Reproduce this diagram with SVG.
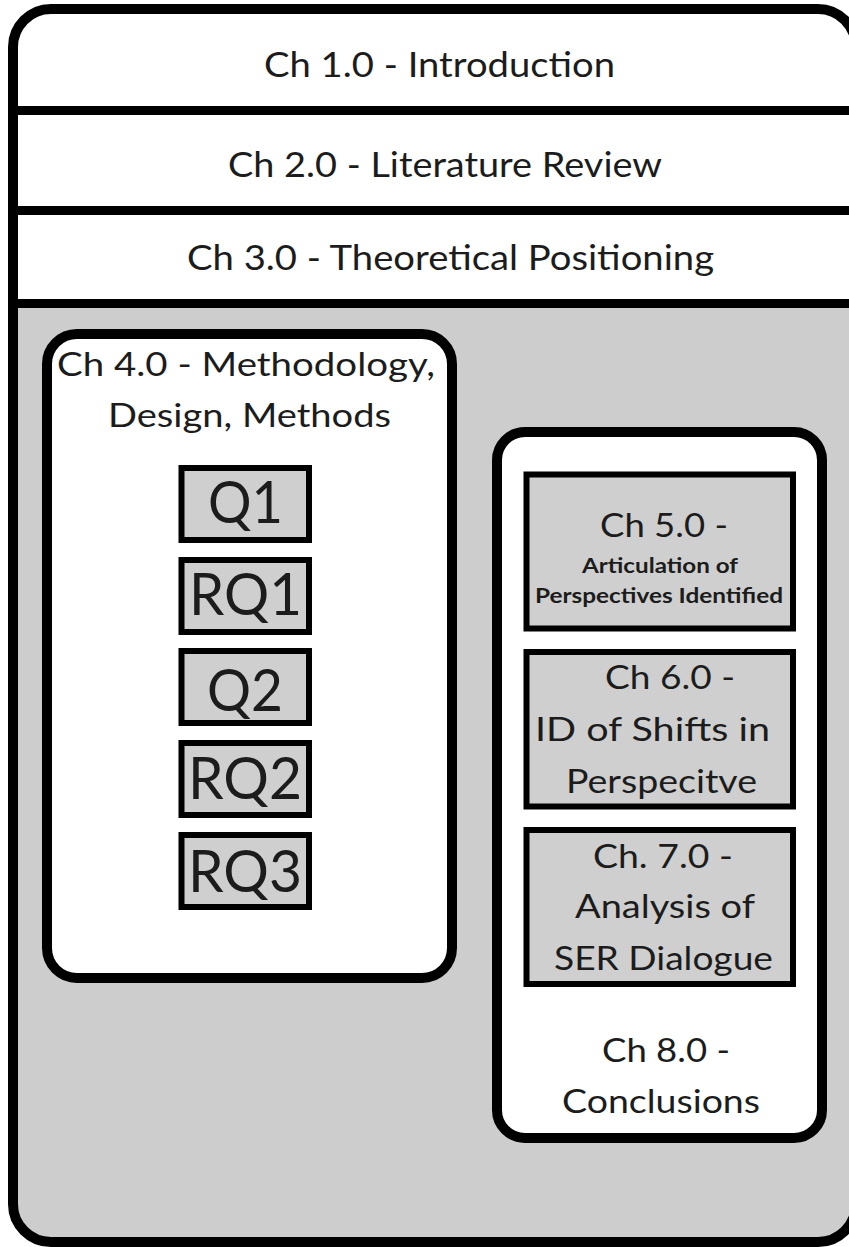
<svg xmlns="http://www.w3.org/2000/svg" width="849" height="1247" viewBox="0 0 849 1247">
  <style>
    .lbl { font-family: Lato, "Open Sans", "Liberation Sans", sans-serif; fill: #1c1c1c; }
    .hdr { font-size: 34px; }
    .ch { font-size: 32px; }
    .sub { font-size: 21px; font-weight: bold; }
    .q { font-size: 59px; }
    .frame { fill: none; stroke: #000; stroke-width: 10; }
    .panel { fill: #fff; stroke: #000; stroke-width: 10; }
    .qbox { fill: #cfcfd0; stroke: #000; stroke-width: 6; }
    .chbox { fill: #cfcfcf; stroke: #000; stroke-width: 6; }
  </style>
  <defs>
    <clipPath id="outerClip">
      <rect x="13" y="9" width="843" height="1233" rx="38" ry="38"/>
    </clipPath>
  </defs>

  <rect x="0" y="0" width="849" height="1247" fill="#fff"/>

  <!-- outer thesis frame: white header bands over a grey body -->
  <g id="frame">
    <g clip-path="url(#outerClip)">
      <rect x="0" y="0" width="870" height="304" fill="#fff"/>
      <rect x="0" y="304" width="870" height="950" fill="#cdcdcd"/>
      <line x1="0" y1="110.5" x2="870" y2="110.5" stroke="#000" stroke-width="9"/>
      <line x1="0" y1="210.5" x2="870" y2="210.5" stroke="#000" stroke-width="9"/>
      <line x1="0" y1="303.5" x2="870" y2="303.5" stroke="#000" stroke-width="9"/>
    </g>
    <rect class="frame" x="13" y="9" width="843" height="1233" rx="38" ry="38"/>
  </g>

  <g id="ch1">
    <text class="lbl hdr" x="264" y="77" textLength="351" lengthAdjust="spacingAndGlyphs">Ch 1.0 - Introduction</text>
  </g>
  <g id="ch2">
    <text class="lbl hdr" x="228" y="177" textLength="434" lengthAdjust="spacingAndGlyphs">Ch 2.0 - Literature Review</text>
  </g>
  <g id="ch3">
    <text class="lbl hdr" x="187" y="270" textLength="527" lengthAdjust="spacingAndGlyphs">Ch 3.0 - Theoretical Positioning</text>
  </g>

  <!-- methodology panel with research questions -->
  <g id="ch4">
    <rect class="panel" x="47" y="334" width="405" height="644" rx="30" ry="30"/>
    <text class="lbl ch" x="57" y="376" textLength="378" lengthAdjust="spacingAndGlyphs">Ch 4.0 - Methodology,</text>
    <text class="lbl ch" x="108" y="427" textLength="283" lengthAdjust="spacingAndGlyphs">Design, Methods</text>
  </g>
  <g id="q1">
    <rect class="qbox" x="181.5" y="468" width="127.5" height="72"/>
    <text class="lbl q" x="208" y="523" textLength="75" lengthAdjust="spacingAndGlyphs">Q1</text>
  </g>
  <g id="rq1">
    <rect class="qbox" x="181.5" y="560" width="127.5" height="72"/>
    <text class="lbl q" x="189" y="615" textLength="113" lengthAdjust="spacingAndGlyphs">RQ1</text>
  </g>
  <g id="q2">
    <rect class="qbox" x="181.5" y="651" width="127.5" height="72"/>
    <text class="lbl q" x="207" y="711" textLength="76" lengthAdjust="spacingAndGlyphs">Q2</text>
  </g>
  <g id="rq2">
    <rect class="qbox" x="181.5" y="743" width="127.5" height="72"/>
    <text class="lbl q" x="188" y="799" textLength="114" lengthAdjust="spacingAndGlyphs">RQ2</text>
  </g>
  <g id="rq3">
    <rect class="qbox" x="181.5" y="835" width="127.5" height="72"/>
    <text class="lbl q" x="188" y="892" textLength="114" lengthAdjust="spacingAndGlyphs">RQ3</text>
  </g>

  <!-- findings panel -->
  <g id="findings">
    <rect class="panel" x="497" y="432" width="325" height="706" rx="28" ry="28"/>
  </g>
  <g id="ch5">
    <rect class="chbox" x="526.5" y="474.5" width="266.5" height="154"/>
    <text class="lbl ch" x="600" y="537" textLength="128" lengthAdjust="spacingAndGlyphs">Ch 5.0 -</text>
    <text class="lbl sub" x="582" y="573" textLength="156" lengthAdjust="spacingAndGlyphs">Articulation of</text>
    <text class="lbl sub" x="535" y="603" textLength="248" lengthAdjust="spacingAndGlyphs">Perspectives Identified</text>
  </g>
  <g id="ch6">
    <rect class="chbox" x="526.5" y="652" width="266.5" height="154.5"/>
    <text class="lbl ch" x="605" y="689" textLength="130" lengthAdjust="spacingAndGlyphs">Ch 6.0 -</text>
    <text class="lbl ch" x="535" y="741" textLength="235" lengthAdjust="spacingAndGlyphs">ID of Shifts in</text>
    <text class="lbl ch" x="566" y="793" textLength="191" lengthAdjust="spacingAndGlyphs">Perspecitve</text>
  </g>
  <g id="ch7">
    <rect class="chbox" x="526.5" y="830" width="266.5" height="154"/>
    <text class="lbl ch" x="593" y="868" textLength="140" lengthAdjust="spacingAndGlyphs">Ch. 7.0 -</text>
    <text class="lbl ch" x="575" y="918" textLength="180" lengthAdjust="spacingAndGlyphs">Analysis of</text>
    <text class="lbl ch" x="554" y="970" textLength="219" lengthAdjust="spacingAndGlyphs">SER Dialogue</text>
  </g>
  <g id="ch8">
    <text class="lbl ch" x="602" y="1062" textLength="128" lengthAdjust="spacingAndGlyphs">Ch 8.0 -</text>
    <text class="lbl ch" x="562" y="1113" textLength="198" lengthAdjust="spacingAndGlyphs">Conclusions</text>
  </g>

  <g id="connectors"/>
</svg>
